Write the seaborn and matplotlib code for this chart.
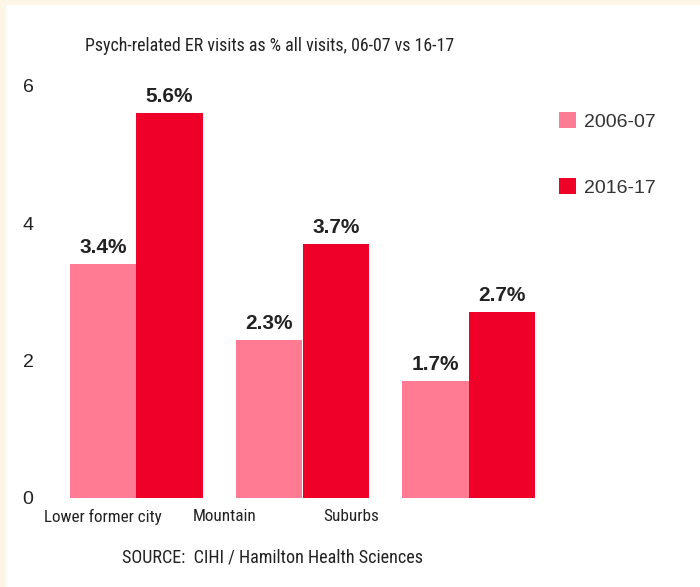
import matplotlib
matplotlib.use("Agg")
import matplotlib.pyplot as plt
from matplotlib.patches import Rectangle, Patch
import seaborn as sns
import pandas as pd

categories = ["Lower former city", "Mountain", "Suburbs"]
series_names = ["2006-07", "2016-17"]
values_2006 = [3.4, 2.3, 1.7]
values_2016 = [5.6, 3.7, 2.7]
y_ticks = [0, 2, 4, 6]
title = "Psych-related ER visits as % all visits, 06-07 vs 16-17"
source = "SOURCE:  CIHI / Hamilton Health Sciences"

colors = ["#ff7b93", "#ee0029"]
label_x = [-0.2, 0.53, 1.29]  # tick label positions (offset as in the original)

df = pd.DataFrame({
    "region": categories * 2,
    "period": [series_names[0]] * 3 + [series_names[1]] * 3,
    "value": values_2006 + values_2016,
})

sns.set_theme(style="white")
plt.rcParams["font.family"] = ["Liberation Sans", "DejaVu Sans"]
narrow = ["Roboto Condensed", "Liberation Sans"]

fig = plt.figure(figsize=(7.0, 5.87), dpi=100)
fig.patch.set_facecolor("#fdf6e6")
fig.patches.append(Rectangle((6 / 700, 0), 1, 1 - 5 / 587, transform=fig.transFigure,
                             facecolor="white", edgecolor="none", zorder=-10))

ax = fig.add_axes([53 / 700, 89 / 587, 499 / 700, 412.5 / 587])
ax.set_facecolor("none")
sns.barplot(data=df, x="region", y="value", hue="period", palette=colors,
            width=0.8, saturation=1, ax=ax, legend=False, errorbar=None,
            linewidth=0, edgecolor="none")

for cont in ax.containers:
    ax.bar_label(cont, fmt="%.1f%%", padding=5, fontsize=15, fontweight="bold",
                 color="#222222")

ax.set_ylim(0, 6)
ax.set_xlim(-0.5, 2.5)
ax.set_yticks(y_ticks)
ax.set_yticklabels([str(t) for t in y_ticks], fontsize=14, color="#222222")
ax.set_xticks(label_x)
ax.set_xticklabels(categories, fontsize=12.3, color="#222222", family=narrow)
ax.tick_params(axis="y", length=0, pad=14)
ax.tick_params(axis="x", length=0, pad=8)
ax.set_xlabel("")
ax.set_ylabel("")
for s in ax.spines.values():
    s.set_visible(False)

fig.text(270 / 700, 1 - 46 / 587, title, ha="center", va="center", fontsize=12.9,
         color="#222222", family=narrow)
fig.text(272 / 700, 1 - 558 / 587, source, ha="center", va="center", fontsize=13.1,
         color="#222222", family=narrow)

handles = [Patch(facecolor=c, edgecolor="none") for c in colors]
fig.legend(handles, series_names, loc="upper left",
           bbox_to_anchor=(559 / 700, 1 - 112 / 587), frameon=False,
           fontsize=14, handlelength=0.88, handleheight=0.88, handletextpad=0.4,
           labelspacing=2.45, borderpad=0, borderaxespad=0, labelcolor="#333333")

fig.savefig("out.png", dpi=100, facecolor=fig.get_facecolor())
